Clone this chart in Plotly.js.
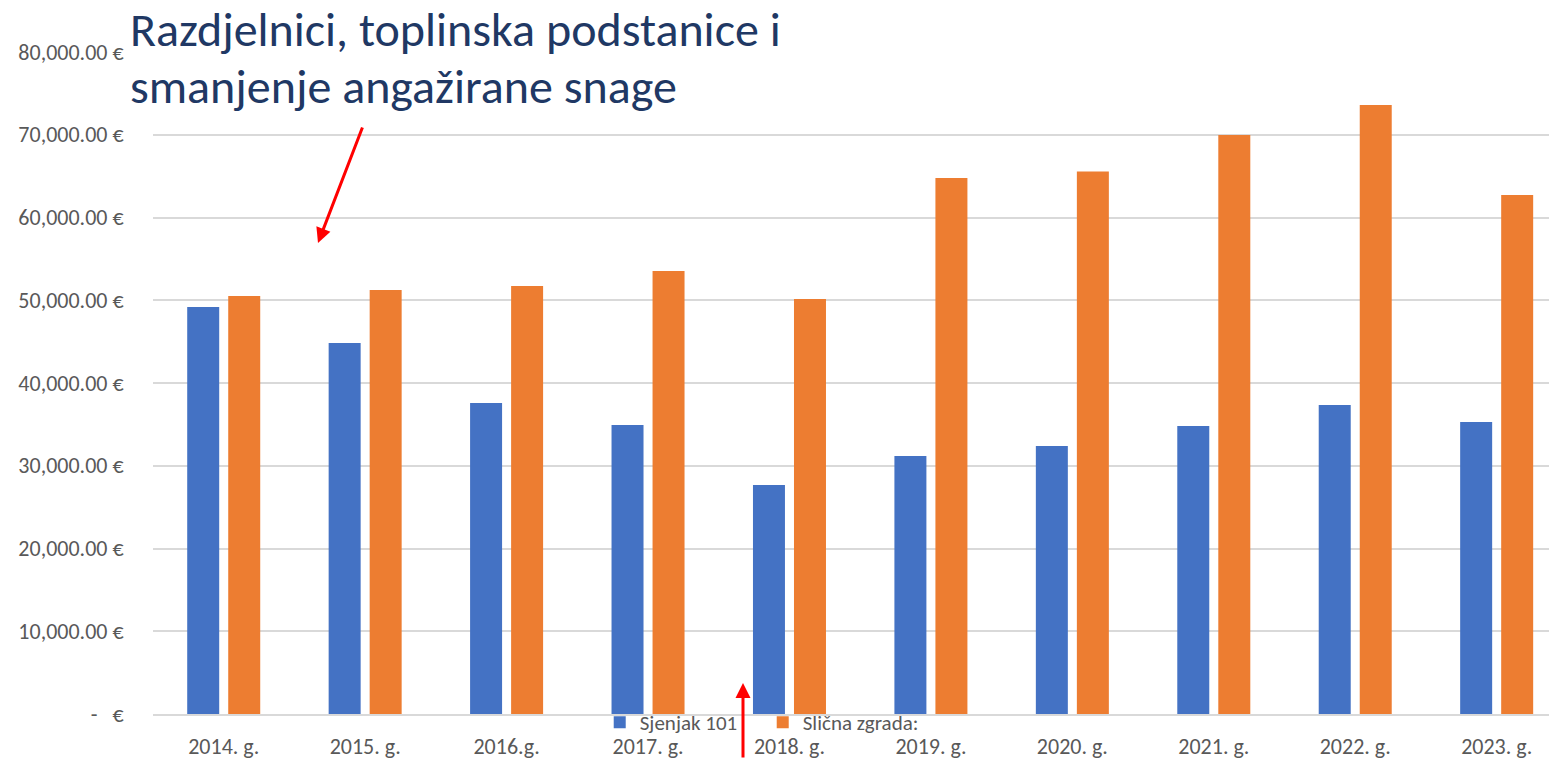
<!DOCTYPE html>
<html>
<head>
<meta charset="utf-8">
<script src="https://cdn.plot.ly/plotly-3.0.1.min.js"></script>
<style>html,body{margin:0;padding:0;background:#fff;}#chart{width:1549px;height:759px;}</style>
</head>
<body>
<div id="chart"></div>
<script>
const categories = ["2014. g.", "2015. g.", "2016.g.", "2017. g.", "2018. g.", "2019. g.", "2020. g.", "2021. g.", "2022. g.", "2023. g."];
const sjenjak = [49180, 44830, 37580, 34920, 27670, 31180, 32390, 34800, 37340, 35290];
const slicna = [50510, 51240, 51720, 53530, 50150, 64770, 65560, 69970, 73600, 62720];
const yTickVals = [0, 10000, 20000, 30000, 40000, 50000, 60000, 70000, 80000];
const yTickText = ["-   €", "10,000.00 €", "20,000.00 €", "30,000.00 €", "40,000.00 €", "50,000.00 €", "60,000.00 €", "70,000.00 €", "80,000.00 €"];
const titleLines = ["Razdjelnici, toplinska podstanice i", "smanjenje angažirane snage"];

const font = "Carlito, Lato, 'Open Sans', sans-serif";
const data = [
  {type: 'bar', name: 'Sjenjak 101', x: categories, y: sjenjak, marker: {color: '#4472C4'}},
  {type: 'bar', name: 'Slična zgrada:', x: categories, y: slicna, marker: {color: '#ED7D31'}}
];
const layout = {
  width: 1549, height: 759,
  margin: {l: 153, r: 0, t: 52, b: 45},
  paper_bgcolor: '#fff', plot_bgcolor: '#fff',
  barmode: 'group', bargap: 0.42, bargroupgap: 0.22,
  font: {family: font, color: '#595959', size: 22},
  xaxis: {type: 'category', range: [-0.5, 9.37], showgrid: false, showline: true, linecolor: '#d9d9d9', linewidth: 2,
          ticks: 'outside', ticklen: 12, tickcolor: 'rgba(0,0,0,0)', tickfont: {size: 22, color: '#595959'}, fixedrange: true},
  yaxis: {range: [0, 80000], tickvals: yTickVals, ticktext: yTickText, showgrid: true, gridcolor: '#d9d9d9', gridwidth: 2,
          zeroline: false, ticks: 'outside', ticklen: 24, tickcolor: 'rgba(0,0,0,0)', tickfont: {size: 22, color: '#595959'}},
  showlegend: true,
  legend: {orientation: 'h', x: 0.32, y: 0.018, yanchor: 'top', xanchor: 'left', bgcolor: 'rgba(0,0,0,0)', font: {size: 21, color: '#595959'},
           traceorder: 'normal', itemwidth: 30, entrywidth: 118, entrywidthmode: 'pixels'},
  annotations: [
    {xref: 'paper', yref: 'paper', x: -0.018, y: (714-30)/662, xanchor: 'left', yanchor: 'middle', align: 'left', showarrow: false,
     text: titleLines[0], font: {family: font, size: 48, color: '#203864'}},
    {xref: 'paper', yref: 'paper', x: -0.018, y: (714-86)/662, xanchor: 'left', yanchor: 'middle', align: 'left', showarrow: false,
     text: titleLines[1], font: {family: font, size: 48, color: '#203864'}},
    {xref: 'paper', yref: 'paper', x: (318-153)/1396, y: (714-243)/662, ax: 45, ay: -117, text: '', showarrow: true,
     arrowcolor: '#FF0000', arrowwidth: 3, arrowhead: 2, arrowsize: 1},
    {xref: 'paper', yref: 'paper', x: (743-153)/1396, y: (714-683)/662, ax: 0, ay: 76, text: '', showarrow: true,
     arrowcolor: '#FF0000', arrowwidth: 3, arrowhead: 2, arrowsize: 1}
  ]
};
Plotly.newPlot('chart', data, layout, {displayModeBar: false, staticPlot: true});
</script>
</body>
</html>
